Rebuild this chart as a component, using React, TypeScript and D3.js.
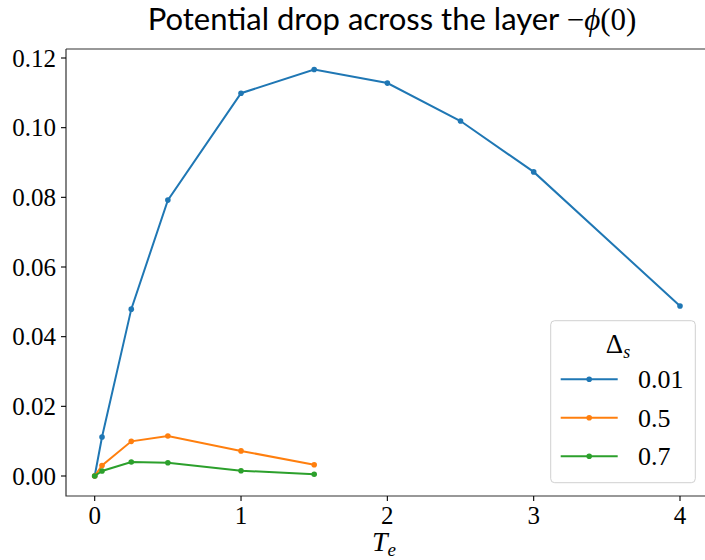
import React from "react";
import * as d3 from "d3";

const xTicks = [0, 1, 2, 3, 4];
const yTicks = [0, 0.02, 0.04, 0.06, 0.08, 0.1, 0.12];
const yTickLabels = ["0.00", "0.02", "0.04", "0.06", "0.08", "0.10", "0.12"];

const teBlue = [0, 0.05, 0.25, 0.5, 1, 1.5, 2, 2.5, 3, 4];
const phiBlue = [0, 0.0112, 0.0479, 0.0792, 0.1099, 0.1167, 0.1128, 0.1019, 0.0873, 0.0488];
const teOrange = [0, 0.05, 0.25, 0.5, 1, 1.5];
const phiOrange = [0, 0.003, 0.00995, 0.0115, 0.0072, 0.00325];
const teGreen = [0, 0.05, 0.25, 0.5, 1, 1.5];
const phiGreen = [0, 0.00144, 0.004, 0.0038, 0.00152, 0.0005];

const seriesNames = ["0.01", "0.5", "0.7"];
const colors = ["#1f77b4", "#ff7f0e", "#2ca02c"];

export default function App() {
  const W = 705, H = 560;
  const L = 66, R = 709, T = 49, B = 496;
  const x = d3.scaleLinear().domain([0, 4]).range([94.7, 680]);
  const y = d3.scaleLinear().domain([0, 0.12]).range([476, 58]);
  const series = [
    { xs: teBlue, ys: phiBlue },
    { xs: teOrange, ys: phiOrange },
    { xs: teGreen, ys: phiGreen },
  ];
  const line = d3.line<[number, number]>().x(d => x(d[0])).y(d => y(d[1]));
  const serif = "'Liberation Serif', 'DejaVu Serif', serif";
  const sans = "Lato, 'Open Sans', sans-serif";
  const fs = 25;
  return (
    <svg width={W} height={H} style={{ position: "absolute", left: 0, top: 0 }}>
      <rect x={0} y={0} width={W} height={H} fill="#fff" />
      <text x={392} y={30} textAnchor="middle" fontFamily={sans} fontSize={31} fill="#000">
        Potential drop across the layer{" "}
        <tspan fontFamily={serif}>−</tspan>
        <tspan fontFamily={serif} fontStyle="italic">ϕ</tspan>
        <tspan fontFamily={serif}>(0)</tspan>
      </text>
      {series.map((s, i) => {
        const pts = s.xs.map((v, j) => [v, s.ys[j]] as [number, number]);
        return (
          <g key={i}>
            <path d={line(pts) || ""} fill="none" stroke={colors[i]} strokeWidth={2} />
            {pts.map((p, j) => (
              <circle key={j} cx={x(p[0])} cy={y(p[1])} r={2.8} fill={colors[i]} />
            ))}
          </g>
        );
      })}
      <path d={`M${L},${T}H${R}M${L},${T}V${B}H${R}`} fill="none" stroke="#333" strokeWidth={1.2} />
      {yTicks.map((t, i) => (
        <g key={i}>
          <line x1={L - 5} x2={L} y1={y(t)} y2={y(t)} stroke="#000" strokeWidth={1.1} />
          <text x={L - 10} y={y(t) + 8.5} textAnchor="end" fontFamily={serif} fontSize={fs} fill="#000">
            {yTickLabels[i]}
          </text>
        </g>
      ))}
      {xTicks.map((t, i) => (
        <g key={i}>
          <line x1={x(t)} x2={x(t)} y1={B} y2={B + 5} stroke="#000" strokeWidth={1.1} />
          <text x={x(t)} y={B + 28} textAnchor="middle" fontFamily={serif} fontSize={fs} fill="#000">
            {String(t)}
          </text>
        </g>
      ))}
      <text x={384} y={551} textAnchor="middle" fontFamily={serif} fontSize={28} fill="#000">
        <tspan fontStyle="italic">T</tspan>
        <tspan fontStyle="italic" fontSize={19} dy={5}>e</tspan>
      </text>
      <g>
        <rect x={550.7} y={320.7} width={144.6} height={162} rx={4} fill="#fff" fillOpacity={0.8} stroke="#d0d0d0" strokeWidth={1} />
        <text x={618} y={353} textAnchor="middle" fontFamily={serif} fontSize={27} fill="#000">
          Δ<tspan fontStyle="italic" fontSize={18} dy={5}>s</tspan>
        </text>
        {seriesNames.map((n, i) => {
          const ly = 379.3 + i * 38.5;
          return (
            <g key={i}>
              <line x1={560.7} x2={617.7} y1={ly} y2={ly} stroke={colors[i]} strokeWidth={2} />
              <circle cx={589.2} cy={ly} r={2.8} fill={colors[i]} />
              <text x={638} y={ly + 9} fontFamily={serif} fontSize={26} fill="#000">{n}</text>
            </g>
          );
        })}
      </g>
    </svg>
  );
}
